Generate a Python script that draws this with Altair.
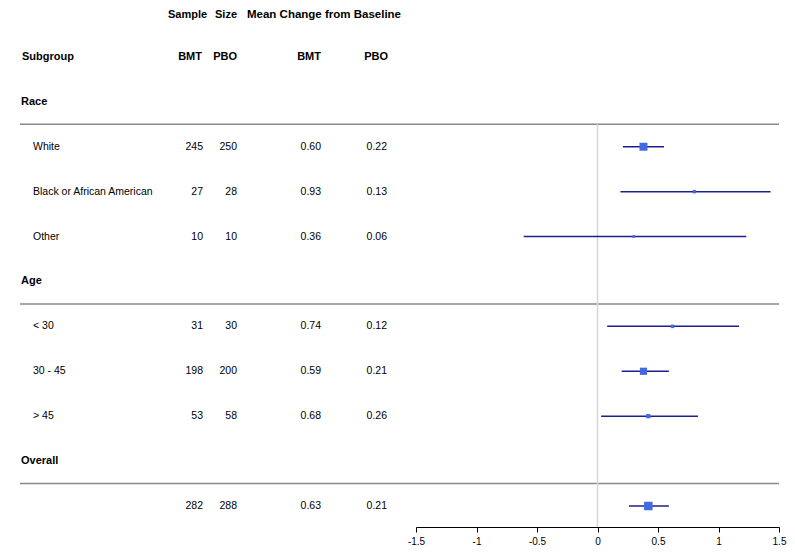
import altair as alt
import pandas as pd

# ---------------- data ----------------
groups = ["Race", "Age", "Overall"]
group_members = [["White", "Black or African American", "Other"],
                 ["< 30", "30 - 45", "> 45"],
                 [""]]
n_bmt = [245, 27, 10, 31, 198, 53, 282]
n_pbo = [250, 28, 10, 30, 200, 58, 288]
mean_bmt = [0.60, 0.93, 0.36, 0.74, 0.59, 0.68, 0.63]
mean_pbo = [0.22, 0.13, 0.06, 0.12, 0.21, 0.26, 0.21]
estimate = [0.38, 0.80, 0.30, 0.62, 0.38, 0.42, 0.42]
ci_low = [0.21, 0.19, -0.61, 0.08, 0.20, 0.03, 0.26]
ci_high = [0.55, 1.43, 1.23, 1.17, 0.59, 0.83, 0.59]
axis_ticks = [-1.5, -1, -0.5, 0, 0.5, 1, 1.5]
header_top = ["Sample", "Size", "Mean Change from Baseline"]
header_cols = ["Subgroup", "BMT", "PBO", "BMT", "PBO"]

# ---------------- build tables ----------------
sub_rows, head_rows = [], []
row = 2
k = 0
for g, members in zip(groups, group_members):
    head_rows.append({"row": row, "group": g})
    row += 1
    for m in members:
        sub_rows.append({"row": row, "label": m,
                         "n_bmt": n_bmt[k], "n_pbo": n_pbo[k],
                         "mean_bmt": mean_bmt[k], "mean_pbo": mean_pbo[k],
                         "est": estimate[k], "lo": ci_low[k], "hi": ci_high[k],
                         "ntot": n_bmt[k] + n_pbo[k]})
        row += 1
        k += 1
sub = pd.DataFrame(sub_rows)
heads = pd.DataFrame(head_rows)
seps = pd.DataFrame({"row": heads["row"] + 0.5})

FONT = "Liberation Sans"
FS = 11
FS_BODY = 10.5
W, H = 771, 519

yscale = alt.Scale(domain=[0, 11], range=[4, 498], nice=False, zero=False)
xscale = alt.Scale(domain=[-1.5, 1.5], range=[408, W], nice=False, zero=False)
xaxis = alt.Axis(values=axis_ticks, labelExpr="toString(datum.value)", title=None,
                 grid=False, domainColor="#000000", tickColor="#000000", tickSize=5,
                 labelFontSize=10, labelFont=FONT, labelColor="#000000",
                 labelFlush=False, labelPadding=4, domainWidth=1)

Y = alt.Y("row:Q", scale=yscale, axis=None)


def col_text(data, field, x, align, bold=False, fmt=None, size=FS_BODY):
    t = alt.Text(field, format=fmt) if fmt else alt.Text(field)
    return alt.Chart(data).mark_text(
        align=align, baseline="middle", font=FONT, fontSize=size,
        fontWeight="bold" if bold else "normal", color="#000000"
    ).encode(x=alt.value(x), y=Y, text=t)


def header_text(txt, r, x, align, size=FS, dy=0):
    return alt.Chart(pd.DataFrame({"t": [txt]})).mark_text(
        align=align, baseline="middle", font=FONT, fontSize=size, dy=dy,
        fontWeight="bold", color="#000000"
    ).encode(x=alt.value(x), y=alt.datum(r, scale=yscale, axis=None), text="t:N")


layers = []
# header rows
layers.append(header_text(header_top[0], 0, 160, "left", dy=3))
layers.append(header_text(header_top[1], 0, 207, "left", dy=3))
layers.append(header_text(header_top[2], 0, 239, "left", size=11.5, dy=3))
layers.append(header_text(header_cols[0], 1, 14, "left"))
layers.append(header_text(header_cols[1], 1, 194, "right"))
layers.append(header_text(header_cols[2], 1, 229, "right"))
layers.append(header_text(header_cols[3], 1, 313, "right"))
layers.append(header_text(header_cols[4], 1, 380, "right"))

# separators
layers.append(alt.Chart(seps).mark_rule(color="#8a8a8a", strokeWidth=1.5).encode(
    x=alt.value(12), x2=alt.value(W), y=Y))

# zero reference line
layers.append(alt.Chart(pd.DataFrame({"z": [0]})).mark_rule(color="#d6d6d6", strokeWidth=1.5).encode(
    x=alt.X("z:Q", scale=xscale, axis=xaxis),
    y=alt.datum(2.5, scale=yscale, axis=None), y2=alt.value(H)))

# group headings
layers.append(col_text(heads, "group:N", 13, "left", bold=True, size=FS))

# subgroup columns
layers.append(col_text(sub, "label:N", 25, "left"))
layers.append(col_text(sub, "n_bmt:Q", 195, "right"))
layers.append(col_text(sub, "n_pbo:Q", 229, "right"))
layers.append(col_text(sub, "mean_bmt:Q", 313, "right", fmt=".2f"))
layers.append(col_text(sub, "mean_pbo:Q", 379, "right", fmt=".2f"))

# CI lines
layers.append(alt.Chart(sub).mark_rule(color="#1e1e8e", strokeWidth=1.5).encode(
    x=alt.X("lo:Q", scale=xscale, axis=xaxis), x2="hi:Q", y=Y))

# estimate squares
layers.append(alt.Chart(sub).mark_square(color="#4169e1", opacity=1, filled=True).encode(
    x=alt.X("est:Q", scale=xscale, axis=xaxis), y=Y,
    size=alt.Size("ntot:Q", scale=alt.Scale(domain=[0, 570], range=[5, 72]), legend=None)))

chart = alt.layer(*layers).properties(
    width=W, height=H,
    padding={"left": 0, "top": 0, "right": 8, "bottom": 22},
    autosize="none",
    background="#ffffff",
).configure_view(stroke=None)

chart.save("out.html", embed_options={"renderer": "svg", "actions": False})
